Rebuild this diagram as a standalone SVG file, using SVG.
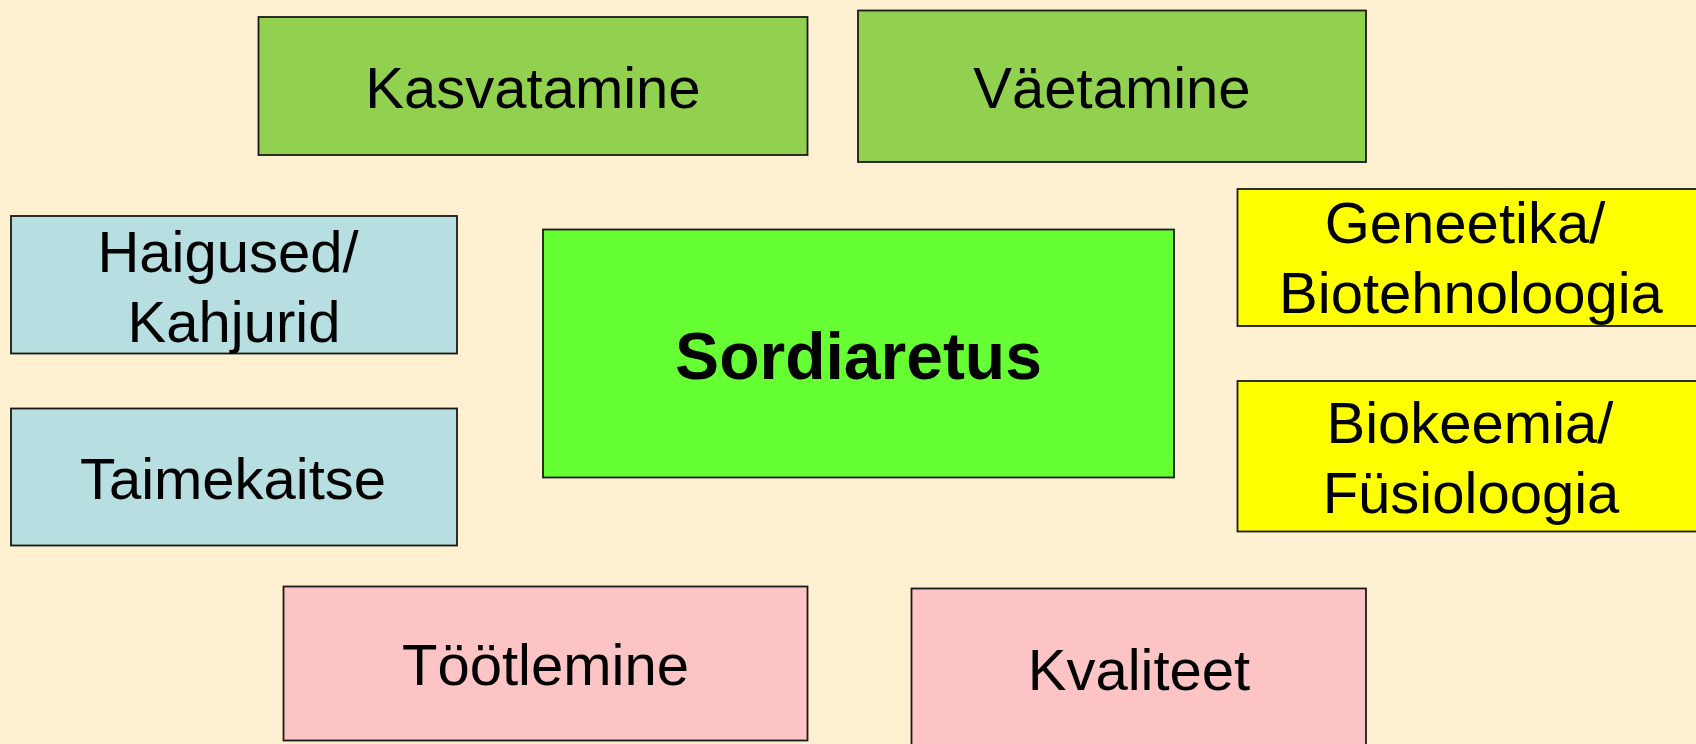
<svg xmlns="http://www.w3.org/2000/svg" width="1696" height="744" viewBox="0 0 1696 744">
<style>
.box{stroke:#1a1a1a;stroke-width:1.8}
.t{font-family:"Liberation Sans",Arial,sans-serif;font-size:58px;fill:#000;text-anchor:middle}
.b{font-weight:bold;font-size:66px}
.g1{fill:#92D050}.bl{fill:#B7DEE0}.g2{fill:#66FF33}.y{fill:#FFFF00}.p{fill:#FCC4C4}
</style>
<rect width="1696" height="744" fill="#FFF0D2"/>
<g id="connectors"></g>
<g id="kasvatamine"><rect class="box g1" x="258.5" y="17" width="549" height="138"/><text class="t" x="533" y="108">Kasvatamine</text></g>
<g id="vaetamine"><rect class="box g1" x="858" y="10.5" width="508" height="151.5"/><text class="t" x="1112" y="108">Väetamine</text></g>
<g id="haigused"><rect class="box bl" x="11" y="216" width="446" height="137.5"/><text class="t" x="228" y="271.5">Haigused/</text><text class="t" x="234" y="341.5">Kahjurid</text></g>
<g id="taimekaitse"><rect class="box bl" x="11" y="408.5" width="446" height="137"/><text class="t" x="233" y="498.5">Taimekaitse</text></g>
<g id="sordiaretus"><rect class="box g2" x="543" y="229.5" width="631" height="248"/><text class="t b" x="858.5" y="379">Sordiaretus</text></g>
<g id="geneetika"><rect class="box y" x="1237.5" y="189" width="470" height="137"/><text class="t" x="1465" y="242.5">Geneetika/</text><text class="t" x="1471" y="313">Biotehnoloogia</text></g>
<g id="biokeemia"><rect class="box y" x="1237.5" y="381" width="470" height="150.5"/><text class="t" x="1470" y="442.5">Biokeemia/</text><text class="t" x="1471" y="512.5">Füsioloogia</text></g>
<g id="tootlemine"><rect class="box p" x="283.5" y="586.5" width="524" height="154"/><text class="t" x="545.5" y="685">Töötlemine</text></g>
<g id="kvaliteet"><rect class="box p" x="911.5" y="588.5" width="454.5" height="170"/><text class="t" x="1139" y="690">Kvaliteet</text></g>
</svg>
